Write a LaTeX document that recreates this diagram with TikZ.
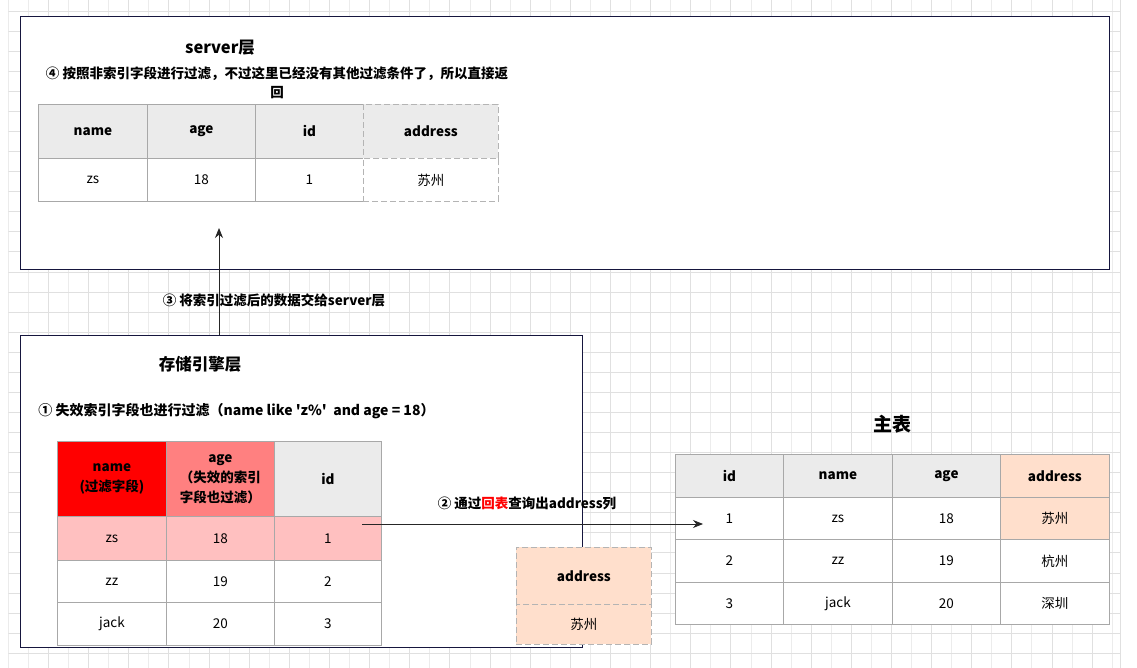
\documentclass[tikz,border=0pt]{standalone}
\usepackage{fontspec}
\setmainfont{Noto Sans CJK SC}[Ligatures=TeXOff]
\usepackage{xcolor}
\usetikzlibrary{positioning, arrows.meta}

\definecolor{navy}{HTML}{16163E}
\definecolor{cellline}{HTML}{A8A8A8}
\definecolor{dashline}{HTML}{B4B4B4}
\definecolor{headgray}{HTML}{EBEBEB}
\definecolor{peach}{HTML}{FFDFCC}
\definecolor{rowpink}{HTML}{FFC0C0}
\definecolor{agered}{HTML}{FF8080}
\definecolor{gridA}{HTML}{E0E0E0}
\definecolor{gridB}{HTML}{ECECEC}

\begin{document}
\begin{tikzpicture}[x=1pt, y=-1pt,
  layer/.style={draw=navy, fill=white, line width=0.9pt, anchor=north west, inner sep=0pt},
  cell/.style={draw=cellline, line width=0.8pt, fill=white, anchor=north west, inner sep=0pt, align=center, font=\fontsize{13.5}{17}\selectfont},
  head/.style={cell, fill=headgray, font=\fontsize{13.5}{20}\selectfont\bfseries},
  dcell/.style={cell, draw=dashline, dash pattern=on 6pt off 3pt},
  tag/.style={font=\fontsize{13.5}{19}\selectfont\bfseries, align=center},
  title/.style={font=\fontsize{16.5}{20}\selectfont\bfseries},
  arr/.style={-{Stealth[length=10pt, width=8pt]}, line width=0.9pt, draw=black!85}
]
\useasboundingbox (0,0) rectangle (1137,668);

% background grid
\begin{scope}
  \clip (8.3,0) rectangle (1120.8,668);
  \foreach \k in {0,2,...,54} \draw[gridA, line width=0.8pt] (8.3+20.07*\k,0) -- ++(0,668);
  \foreach \k in {1,3,...,55} \draw[gridB, line width=0.8pt] (8.3+20.07*\k,0) -- ++(0,668);
  \foreach \k in {0,...,32} \draw[gridA, line width=0.8pt] (8.3,11+20.07*\k) -- (1120.3,11+20.07*\k);
  \draw[gridA, line width=0.8pt] (1120.3,0) -- (1120.3,668);
\end{scope}

% layers
\node[layer, minimum width=1089pt, minimum height=253pt] (server) at (20,16) {};
\node[layer, minimum width=562pt, minimum height=312pt] (store) at (20,335) {};

% server layer
\node[title] (servertitle) at (220,48) {server层};
\node[tag] (step4) at (277,82.5) {④ 按照非索引字段进行过滤，不过这里已经没有其他过滤条件了，所以直接返\\回};
\foreach \n/\x/\w/\txt in {sname/38/109/name, sage/147/108/age, sid/255/108/id}
  \node[head, minimum width=\w pt, minimum height=54pt] (\n h) at (\x,104) {\txt};
\node[head, dcell, fill=headgray, font=\fontsize{13.5}{20}\selectfont\bfseries, minimum width=135pt, minimum height=54pt] (saddrh) at (363,104) {address};
\foreach \n/\x/\w/\txt in {sname/38/109/zs, sage/147/108/18, sid/255/108/1}
  \node[cell, minimum width=\w pt, minimum height=43pt] (\n v) at (\x,158) {\txt};
\node[dcell, minimum width=135pt, minimum height=43pt] (saddrv) at (363,158) {苏州};

% storage engine layer
\node[title] (storetitle) at (200,364) {存储引擎层};
\node[tag, font=\fontsize{14}{19}\selectfont\bfseries] (step1) at (236.5,411) {① 失效索引字段也进行过滤（name like 'z\%'\ \ and age = 18）};
\node[head, fill=red, minimum width=109pt, minimum height=75pt] (ename) at (57,441) {name\\(过滤字段)};
\node[head, fill=agered, minimum width=108pt, minimum height=75pt] (eage) at (166,441) {age\\（失效的索引\\字段也过滤）};
\node[head, minimum width=107pt, minimum height=75pt] (eid) at (274,441) {id};
\foreach \r/\y/\h/\fc/\a/\b/\c in {1/516/44/rowpink/zs/18/1, 2/560/42/white/zz/19/2, 3/602/43/white/jack/20/3} {
  \node[cell, fill=\fc, minimum width=109pt, minimum height=\h pt] (ename\r) at (57,\y) {\a};
  \node[cell, fill=\fc, minimum width=108pt, minimum height=\h pt] (eage\r) at (166,\y) {\b};
  \node[cell, fill=\fc, minimum width=107pt, minimum height=\h pt] (eid\r) at (274,\y) {\c};
}

% looked-up column
\node[dcell, fill=peach, font=\fontsize{13.5}{20}\selectfont\bfseries, minimum width=135pt, minimum height=57pt] (addrh) at (516,547) {address};
\node[dcell, fill=peach, minimum width=135pt, minimum height=40pt] (addrv) at (516,604) {苏州};

% main table
\node[title, font=\fontsize{19}{22}\selectfont\bfseries] (maintitle) at (892,424) {主表};
\foreach \n/\x/\w/\fc/\txt in {mid/675/108/headgray/id, mname/783/109/headgray/name, mage/892/108/headgray/age, maddr/1000/109/peach/address}
  \node[head, fill=\fc, minimum width=\w pt, minimum height=43pt] (\n h) at (\x,454) {\txt};
\foreach \r/\y/\h/\fc/\a/\b/\c/\d in {1/497/42/peach/1/zs/18/苏州, 2/539/43/white/2/zz/19/杭州, 3/582/42/white/3/jack/20/深圳} {
  \node[cell, minimum width=108pt, minimum height=\h pt] (mid\r) at (675,\y) {\a};
  \node[cell, minimum width=109pt, minimum height=\h pt] (mname\r) at (783,\y) {\b};
  \node[cell, minimum width=108pt, minimum height=\h pt] (mage\r) at (892,\y) {\c};
  \node[cell, fill=\fc, minimum width=109pt, minimum height=\h pt] (maddr\r) at (1000,\y) {\d};
}

% connectors
\coordinate (from2) at (362,524);
\coordinate (to2) at (703,524);
\draw[arr] (from2) -- (to2);
\node[tag] (step2) at (527,503) {② 通过\textcolor{red}{回表}查询出address列};

\coordinate (to3) at (219,228);
\draw[arr] (to3 |- store.north) -- (to3);
\node[tag] (step3) at (274,300) {③ 将索引过滤后的数据交给server层};
\end{tikzpicture}
\end{document}
